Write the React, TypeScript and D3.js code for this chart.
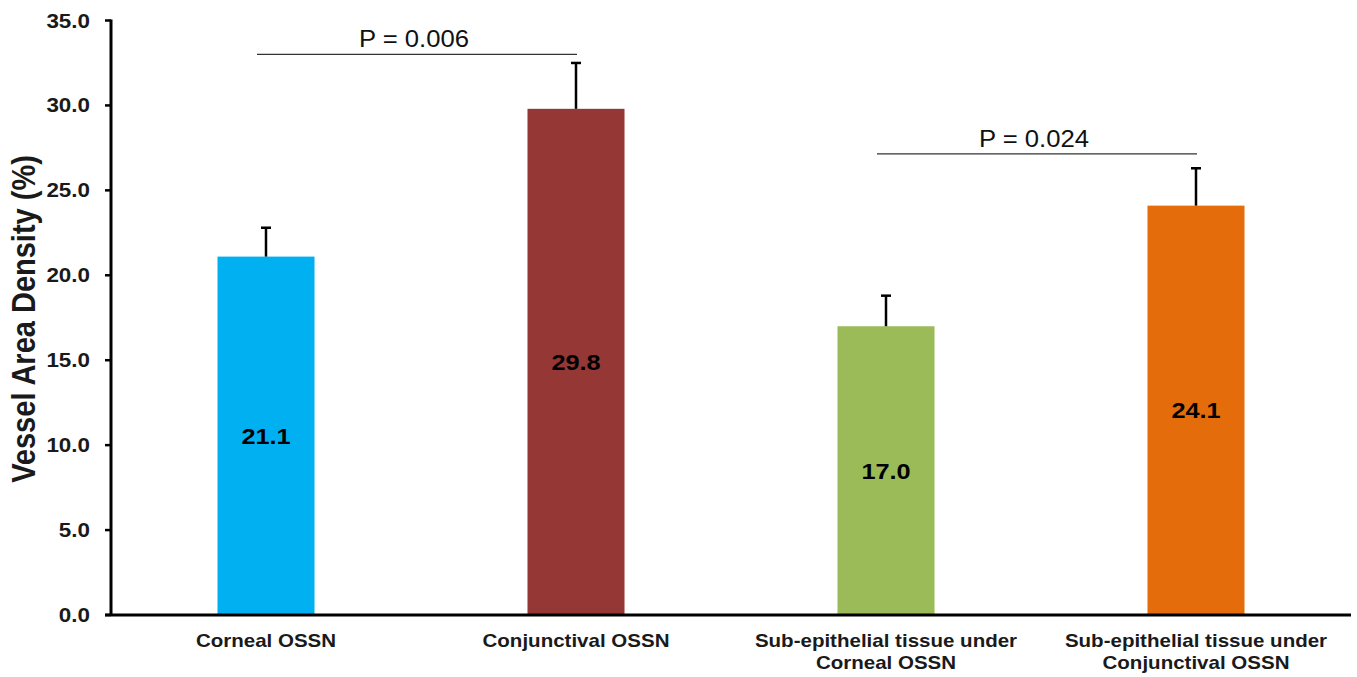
import React from "react";
import * as d3 from "d3";

const categories: string[][] = [
  ["Corneal OSSN"],
  ["Conjunctival OSSN"],
  ["Sub-epithelial tissue under", "Corneal OSSN"],
  ["Sub-epithelial tissue under", "Conjunctival OSSN"],
];
const values = [21.1, 29.8, 17.0, 24.1];
const errorTops = [22.8, 32.5, 18.8, 26.3];
const colors = ["#00B0F0", "#953735", "#9BBB59", "#E46C0A"];
const yTicks = [0, 5, 10, 15, 20, 25, 30, 35];
const comparisons = [
  { from: 0, to: 1, y: 33.0, label: "P = 0.006" },
  { from: 2, to: 3, y: 27.15, label: "P = 0.024" },
];

const W = 1357;
const H = 677;
const M = { left: 111, right: 6, top: 20.5, bottom: 62 };
const SX = 1.15;

export default function App() {
  const x = d3
    .scaleBand<number>()
    .domain(d3.range(values.length))
    .range([M.left, W - M.right])
    .paddingInner(0.687)
    .paddingOuter(0.3435);
  const y = d3.scaleLinear().domain([0, 35]).range([H - M.bottom, M.top]);
  const cx = (i: number) => (x(i) as number) + x.bandwidth() / 2;
  const font = "Liberation Sans, Arial, sans-serif";

  return (
    <svg
      width={W}
      height={H}
      style={{ position: "absolute", left: 0, top: 0, background: "#fff" }}
      fontFamily={font}
    >
      {values.map((v, i) => (
        <g key={i}>
          <rect
            x={x(i)}
            y={y(v)}
            width={x.bandwidth()}
            height={y(0) - y(v)}
            fill={colors[i]}
          />
          <line x1={cx(i)} x2={cx(i)} y1={y(v)} y2={y(errorTops[i])} stroke="#000" strokeWidth={2.5} />
          <line x1={cx(i) - 5} x2={cx(i) + 5} y1={y(errorTops[i])} y2={y(errorTops[i])} stroke="#000" strokeWidth={2.5} />
          <g transform={`translate(${cx(i)},${y(v / 2) + 8}) scale(${SX},1)`}>
            <text textAnchor="middle" fontWeight="bold" fontSize={22} fill="#000">
              {v.toFixed(1)}
            </text>
          </g>
        </g>
      ))}

      {/* y axis */}
      <line x1={M.left} x2={M.left} y1={y(35) - 1} y2={y(0)} stroke="#000" strokeWidth={3} />
      {yTicks.map((t) => (
        <g key={t}>
          <line x1={M.left - 6} x2={M.left} y1={y(t)} y2={y(t)} stroke="#000" strokeWidth={2.5} />
          <g transform={`translate(${M.left - 21},${y(t) + 7}) scale(${SX},1)`}>
            <text textAnchor="end" fontWeight="bold" fontSize={19.5} fill="#1a1a1a">
              {t.toFixed(1)}
            </text>
          </g>
        </g>
      ))}
      {/* x axis */}
      <line x1={M.left - 6} x2={W - M.right} y1={y(0)} y2={y(0)} stroke="#000" strokeWidth={3} />

      {categories.map((lines, i) => (
        <g key={i} transform={`translate(${cx(i)},${y(0) + 32}) scale(1.14,1)`}>
          <text textAnchor="middle" fontWeight="bold" fontSize={18} fill="#1a1a1a">
            {lines.map((l, j) => (
              <tspan key={j} x={0} dy={j === 0 ? 0 : 22}>
                {l}
              </tspan>
            ))}
          </text>
        </g>
      ))}

      {/* y axis title */}
      <g transform={`translate(35,319) scale(${SX},1) rotate(-90)`}>
        <text textAnchor="middle" fontWeight="bold" fontSize={29} fill="#1a1a1a">
          Vessel Area Density (%)
        </text>
      </g>

      {comparisons.map((c, k) => {
        const x1 = cx(c.from) - 9;
        const x2 = cx(c.to) + 1;
        return (
          <g key={k}>
            <line x1={x1} x2={x2} y1={y(c.y)} y2={y(c.y)} stroke="#333" strokeWidth={1.3} />
            <g transform={`translate(${(x1 + x2) / 2 - 3},${y(c.y) - 7}) scale(1.07,1)`}>
              <text textAnchor="middle" fontSize={24} fill="#111">
                {c.label}
              </text>
            </g>
          </g>
        );
      })}
    </svg>
  );
}
